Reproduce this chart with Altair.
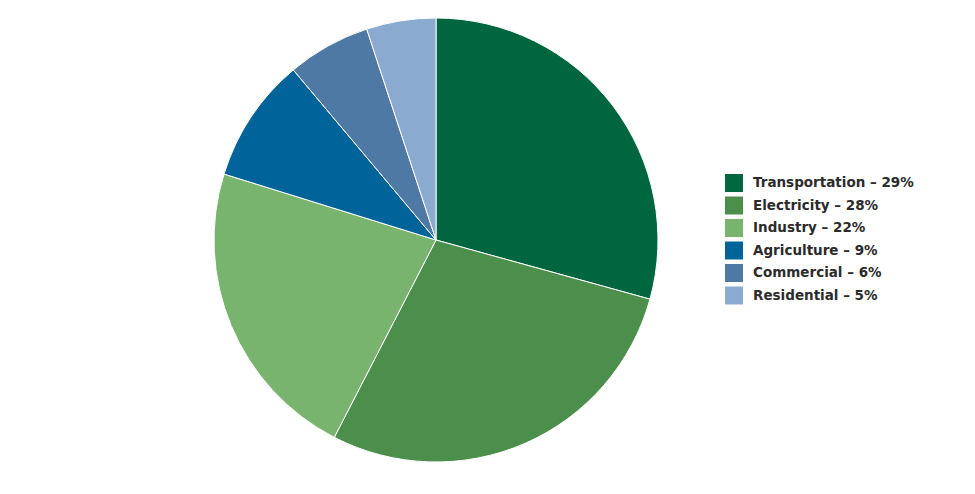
import altair as alt
import pandas as pd

sectors = ["Transportation", "Electricity", "Industry", "Agriculture", "Commercial", "Residential"]
shares = [29, 28, 22, 9, 6, 5]
colors = ["#00663f", "#4c8f4d", "#78b46e", "#00649a", "#4f79a5", "#8aaacf"]

labels = [f"{s} \u2013 {v}%" for s, v in zip(sectors, shares)]
df = pd.DataFrame({"label": labels, "share": shares, "order": list(range(len(shares)))})

chart = alt.Chart(df).mark_arc(outerRadius=222, stroke="white", strokeWidth=1).encode(
    theta=alt.Theta("share:Q", stack=True),
    order=alt.Order("order:Q"),
    color=alt.Color(
        "label:N",
        sort=labels,
        scale=alt.Scale(domain=labels, range=colors),
        legend=alt.Legend(
            title=None,
            orient="none",
            legendX=717,
            legendY=166,
            symbolType="square",
            symbolSize=324,
            symbolStrokeWidth=0,
            symbolOpacity=1,
            labelFont="DejaVu Sans",
            labelFontWeight="bold",
            labelFontSize=13.5,
            labelColor="#2b2b2b",
            labelLimit=300,
            rowPadding=4.5,
            labelOffset=10,
        ),
    ),
    x=alt.value(428),
    y=alt.value(232),
).properties(
    width=959, height=478, autosize="none", padding=0
).configure_view(stroke=None)

chart.save("out.html", embed_options={"renderer": "svg", "actions": False})
